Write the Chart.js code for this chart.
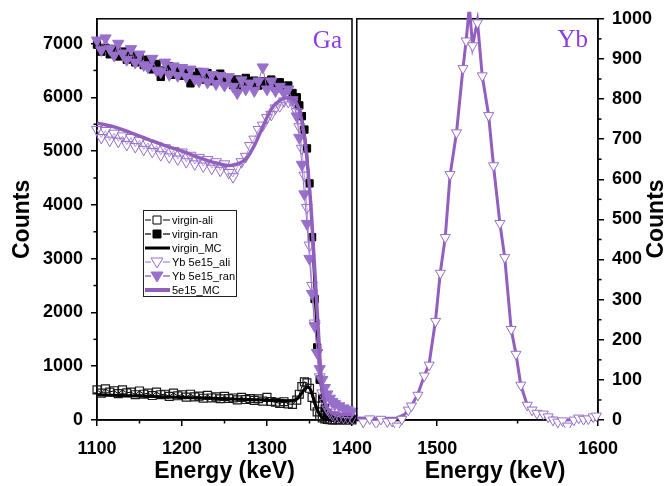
<!DOCTYPE html>
<html><head><meta charset="utf-8">
<script src="https://cdn.jsdelivr.net/npm/chart.js@4.4.1/dist/chart.umd.min.js"></script>
<style>
html,body{margin:0;padding:0;background:#fff;}
#wrap{position:relative;width:668px;height:486px;overflow:hidden;background:#fff;}
#cL{position:absolute;left:0;top:0;}
#cR{position:absolute;left:350px;top:0;}
</style></head>
<body><div id="wrap">
<canvas id="cL" width="400" height="486"></canvas>
<canvas id="cR" width="318" height="486"></canvas>
</div>
<script>
// ---------- data (left panel: Ga) ----------
const E_L = [1100,1105,1110,1115,1120,1125,1130,1135,1140,1145,1150,1155,1160,1165,1170,1175,1180,1185,1190,1195,
  1200,1205,1210,1215,1220,1225,1230,1235,1240,1245,1250,1255,1260,1265,1270,1275,1280,1285,1290,1295,
  1300,1305,1310,1315,1320,1325,1330,1335,
  1338,1341,1344,1347,1350,1353,1356,1359,1362,1365,1368,1371,1374,1377,1380,
  1385,1390,1395,1400];
const virginAli = [560,500,580,520,545,490,560,505,520,470,540,480,500,455,520,470,480,440,500,450,
  470,425,480,430,445,405,460,410,430,395,440,400,410,375,420,380,400,365,395,350,
  420,345,330,310,340,300,290,370,
  480,620,710,690,590,420,260,150,80,40,20,10,5,0,0,
  0,0,0,0];
const virginRan = [6980,6850,6920,6800,6900,6760,6850,6700,6780,6650,6760,6600,6700,6520,6620,6380,6500,6580,6420,6540,
  6400,6480,6260,6400,6470,6330,6450,6300,6400,6440,6280,6350,6230,6330,6200,6360,6250,6310,6220,6300,
  6240,6330,6180,6280,6150,6220,6080,6000,
  5850,5650,5400,5050,4400,3400,2250,1350,750,400,220,130,90,60,45,
  35,25,20,15];
const ybAli = [5400,5250,5380,5200,5330,5180,5280,5120,5250,5080,5200,5030,5150,4990,5100,4930,5060,4890,5010,4850,
  4980,4800,4920,4760,4880,4720,4840,4680,4800,4640,4760,4600,4520,4700,4800,4900,5100,5220,5400,5480,
  5620,5680,5800,5840,5930,5920,5900,5730,
  5450,5050,4550,3950,3250,2500,1800,1250,800,500,320,200,140,100,80,
  60,50,40,40];
const ybRan = [7060,6880,7100,6900,6780,7000,6820,6700,6900,6650,6800,6600,6560,6720,6500,6470,6650,6420,6580,6400,
  6550,6380,6520,6340,6300,6480,6280,6420,6250,6400,6220,6380,6200,6080,6320,6150,6260,6120,6300,6560,
  6150,6300,6120,6200,6080,6150,5950,5650,
  5250,4750,4200,3650,3000,2350,1750,1250,950,750,600,480,400,340,300,
  260,220,190,160];
const E_vMC = [1100,1150,1200,1250,1300,1320,1330,1336,1340,1344,1348,1351,1354,1357,1360,1364,1368,1372,1380,1400];
const virginMC = [470,445,420,395,370,355,360,400,480,570,610,570,440,290,160,60,20,5,0,0];
const E_yMC = [1100,1120,1140,1160,1180,1200,1220,1240,1255,1265,1275,1285,1295,1305,1315,1325,1333,1339,1345,1349,
  1352,1355,1358,1361,1364,1367,1370,1375,1380,1390,1400];
const ybMC = [5520,5450,5340,5220,5100,5000,4880,4780,4730,4760,4850,5100,5450,5780,5940,5990,5930,5700,5150,4500,
  3900,3100,2300,1500,700,400,250,150,120,100,100];

// ---------- data (right panel: Yb) ----------
const E_R = [1454,1458,1462,1465,1469,1472,1475,1478,1482,1484,1488,1492,1495,1499,1502,1505,1508,1512,1516,1518,
  1522,1525,1528,1532,1535,1539,1542,1546,1549,1552,1556,1559,1562,1566,1569,1572,1575,1578,1581,1585,
  1588,1591,1594,1597,1599];
const ybAliR = [-5,3,-8,2,-4,-3,-15,2,25,35,62,110,137,246,366,455,612,716,876,945,
  933,990,858,759,634,490,405,226,164,87,37,25,17,15,8,0,-5,-2,-15,0,
  5,2,3,8,10];
const E_Rmc = [1450,1465,1475,1480,1484,1488,1492,1495,1499,1502,1505,1508,1512,1516,1518,1520,1522,1525,1528,1532,
  1535,1539,1542,1546,1549,1552,1556,1559,1562,1566,1569,1575,1581,1590,1600];
const ybMCR = [5,4,5,15,35,65,110,140,250,370,455,610,716,876,945,1030,933,995,858,759,
  634,490,405,226,164,87,37,25,17,15,8,2,0,3,8];
const E_RvMC = [1450,1480];
const virginMCR = [0,0];

// ---------- ticks ----------
const yTicksL = [0,1000,2000,3000,4000,5000,6000,7000];
const yMinorL = [500,1500,2500,3500,4500,5500,6500];
const xTicksL = [1100,1200,1300,1400];
const xMinorL = [1150,1250,1350];
const yTicksR = [0,100,200,300,400,500,600,700,800,900,1000];
const yMinorR = [50,150,250,350,450,550,650,750,850,950];
const xTicksR = [1500,1600];
const xMinorR = [1550];

// ---------- helpers ----------
const pts = (xs, ys) => xs.map((x, i) => ({x: x, y: ys[i]}));
const FAM = "'Liberation Sans', Arial, sans-serif";
Chart.defaults.font.family = FAM;
const tickFont = {family: FAM, size: 18, weight: 'bold'};
const titleFont = {family: FAM, size: 23, weight: 'bold', lineHeight: 1};
const C_FILL = '#9870cc', C_OPEN = '#9670ca', C_OPENLINE = '#b89ddf', C_MC = '#9160bc';

const gridOpt = {drawOnChartArea: false, drawTicks: true, tickLength: 6, color: '#000', lineWidth: 1.5};
const borderOpt = {display: true, color: '#000', width: 1.5};

const framePlugin = {
  id: 'frame',
  beforeDatasetsDraw(chart) {
    const a = chart.chartArea, ctx = chart.ctx;
    ctx.save(); ctx.strokeStyle = '#000'; ctx.lineWidth = 1.5;
    ctx.strokeRect(a.left, a.top, a.right - a.left, a.bottom - a.top);
    ctx.restore();
  }
};
const minorPlugin = {
  id: 'minor',
  afterDraw(chart, args, opts) {
    const ctx = chart.ctx;
    ctx.save(); ctx.strokeStyle = '#000'; ctx.lineWidth = 1.5;
    for (const m of opts.list || []) {
      const s = chart.scales[m.axis];
      for (const v of m.values) {
        const p = s.getPixelForValue(v);
        ctx.beginPath();
        if (s.isHorizontal()) { ctx.moveTo(p, s.top); ctx.lineTo(p, s.top + 3.5); }
        else if (s.position === 'left') { ctx.moveTo(s.right, p); ctx.lineTo(s.right - 3.5, p); }
        else { ctx.moveTo(s.left, p); ctx.lineTo(s.left + 3.5, p); }
        ctx.stroke();
      }
    }
    ctx.restore();
  }
};
const textPlugin = {
  id: 'texts',
  afterDraw(chart, args, opts) {
    const ctx = chart.ctx;
    for (const t of opts.items || []) {
      ctx.save();
      ctx.font = t.font; ctx.fillStyle = t.color || '#000';
      ctx.textAlign = t.align || 'center'; ctx.textBaseline = t.baseline || 'middle';
      ctx.translate(t.x, t.y);
      if (t.rot) ctx.rotate(t.rot);
      ctx.fillText(t.text, 0, 0);
      ctx.restore();
    }
  }
};
function drawMarker(ctx, kind, x, y, fill, stroke) {
  ctx.beginPath();
  if (kind === 'rect') { ctx.rect(x - 4, y - 4, 8, 8); }
  else { ctx.moveTo(x - 6, y - 4); ctx.lineTo(x + 6, y - 4); ctx.lineTo(x, y + 6); ctx.closePath(); }
  ctx.fillStyle = fill; ctx.fill();
  ctx.strokeStyle = stroke; ctx.lineWidth = 1; ctx.stroke();
}
const legendPlugin = {
  id: 'boxlegend',
  afterDraw(chart, args, opts) {
    const ctx = chart.ctx;
    const x0 = opts.x, y0 = opts.y, w = opts.w, h = opts.h;
    ctx.save();
    ctx.fillStyle = '#fff'; ctx.fillRect(x0, y0, w, h);
    ctx.strokeStyle = '#222'; ctx.lineWidth = 1; ctx.strokeRect(x0 + 0.5, y0 + 0.5, w, h);
    const ds = chart.data.datasets.filter(d => d.lg).sort((a, b) => a.lg.row - b.lg.row);
    ds.forEach((d, i) => {
      const yy = y0 + 10 + i * 14;
      const g = d.lg;
      ctx.strokeStyle = g.lineColor; ctx.lineWidth = g.lineWidth;
      ctx.beginPath();
      if (g.marker) {
        ctx.moveTo(x0 + 2, yy); ctx.lineTo(x0 + 8, yy);
        ctx.moveTo(x0 + 20, yy); ctx.lineTo(x0 + 27, yy);
      } else { ctx.moveTo(x0 + 2, yy); ctx.lineTo(x0 + 27, yy); }
      ctx.stroke();
      if (g.marker) drawMarker(ctx, g.marker, x0 + 14, yy, g.fill, g.stroke);
      ctx.fillStyle = '#000'; ctx.font = '11px ' + FAM;
      ctx.textAlign = 'left'; ctx.textBaseline = 'middle';
      ctx.fillText(d.label, x0 + 29, yy + 0.5);
    });
    ctx.restore();
  }
};

// ---------- left chart ----------
new Chart(document.getElementById('cL'), {
  type: 'scatter',
  data: {datasets: [
    {label: 'virgin-ali', data: pts(E_L, virginAli), showLine: true, borderColor: '#000', borderWidth: 1,
     pointStyle: 'rect', pointRadius: 5.6, pointBorderColor: '#1a1a1a', pointBackgroundColor: 'rgba(0,0,0,0)',
     pointBorderWidth: 1.2, order: 6, clip: false,
     lg: {row: 0, lineColor: '#000', lineWidth: 1, marker: 'rect', fill: '#fff', stroke: '#000'}},
    {label: 'virgin-ran', data: pts(E_L, virginRan), showLine: true, borderColor: '#000', borderWidth: 1.5,
     pointStyle: 'rect', pointRadius: 5.2, pointBorderColor: '#000', pointBackgroundColor: '#000',
     pointBorderWidth: 1, order: 5, clip: false,
     lg: {row: 1, lineColor: '#333', lineWidth: 1.5, marker: 'rect', fill: '#000', stroke: '#000'}},
    {label: 'virgin_MC', data: pts(E_vMC, virginMC), showLine: true, borderColor: '#000', borderWidth: 3,
     pointRadius: 0, cubicInterpolationMode: 'monotone', order: 4, clip: false,
     lg: {row: 2, lineColor: '#000', lineWidth: 3}},
    {label: 'Yb 5e15_ali', data: pts(E_L, ybAli), showLine: true, borderColor: C_OPENLINE, borderWidth: 1,
     pointStyle: 'triangle', pointRotation: 180, pointRadius: 6.3, pointBorderColor: C_OPEN,
     pointBackgroundColor: 'rgba(0,0,0,0)', pointBorderWidth: 1, order: 3, clip: false,
     lg: {row: 3, lineColor: C_OPENLINE, lineWidth: 1.5, marker: 'tri', fill: '#fff', stroke: C_OPEN}},
    {label: 'Yb 5e15_ran', data: pts(E_L, ybRan), showLine: true, borderColor: C_FILL, borderWidth: 1,
     pointStyle: 'triangle', pointRotation: 180, pointRadius: 6.5, pointBorderColor: C_FILL,
     pointBackgroundColor: C_FILL, pointBorderWidth: 1, order: 2, clip: false,
     lg: {row: 4, lineColor: C_FILL, lineWidth: 1.5, marker: 'tri', fill: C_FILL, stroke: C_FILL}},
    {label: '5e15_MC', data: pts(E_yMC, ybMC), showLine: true, borderColor: C_MC, borderWidth: 3.5,
     pointRadius: 0, cubicInterpolationMode: 'monotone', order: 1, clip: false,
     lg: {row: 5, lineColor: C_MC, lineWidth: 4}}
  ]},
  options: {
    responsive: false, animation: false, events: [],
    layout: {padding: {left: 0, right: 48, top: 17, bottom: 0}},
    plugins: {
      legend: {display: false}, tooltip: {enabled: false},
      minor: {list: [{axis: 'x', values: xMinorL}, {axis: 'y', values: yMinorL}]},
      boxlegend: {x: 143, y: 210, w: 93, h: 86},
      texts: {items: [{text: 'Ga', x: 342, y: 48, font: "25px 'Liberation Serif', 'Times New Roman', serif",
        color: '#8c3ce6', align: 'right', baseline: 'alphabetic'}]}
    },
    scales: {
      x: {type: 'linear', min: 1100, max: 1400,
        afterBuildTicks: s => { s.ticks = xTicksL.map(v => ({value: v})); },
        afterFit: s => { s.height = 66; },
        ticks: {font: tickFont, color: '#000', padding: 12, maxRotation: 0, autoSkip: false, callback: v => String(v)},
        grid: gridOpt, border: borderOpt,
        title: {display: true, text: 'Energy (keV)', font: titleFont, color: '#000', padding: {top: 0, bottom: 2.5}}},
      y: {type: 'linear', position: 'left', min: 0, max: 7460,
        afterBuildTicks: s => { s.ticks = yTicksL.map(v => ({value: v})); },
        afterFit: s => { s.width = 97; },
        ticks: {font: tickFont, color: '#000', padding: 8, autoSkip: false, callback: v => String(v)},
        grid: gridOpt, border: borderOpt,
        title: {display: true, text: 'Counts', font: titleFont, color: '#000', padding: {top: 11.5, bottom: 0}}}
    }
  },
  plugins: [framePlugin, minorPlugin, textPlugin, legendPlugin]
});

// ---------- right chart ----------
new Chart(document.getElementById('cR'), {
  type: 'scatter',
  data: {datasets: [
    {label: 'virgin_MC', data: pts(E_RvMC, virginMCR), showLine: true, borderColor: '#000', borderWidth: 2.5,
     pointRadius: 0, order: 3, clip: {left: 0, right: 0, top: 0, bottom: 4}},
    {label: '5e15_MC', data: pts(E_Rmc, ybMCR), showLine: true, borderColor: '#925fbf', borderWidth: 3,
     pointRadius: 0, order: 2, clip: {left: 0, right: 0, top: 7, bottom: 4}},
    {label: 'Yb 5e15_ali', data: pts(E_R, ybAliR), showLine: false,
     pointStyle: 'triangle', pointRotation: 180, pointRadius: 5.8, pointBorderColor: C_OPEN,
     pointBackgroundColor: '#fff', pointBorderWidth: 1, order: 1, clip: {left: 6, right: 6, top: 0, bottom: 8}}
  ]},
  options: {
    responsive: false, animation: false, events: [],
    layout: {padding: {left: 6.5, right: 0, top: 17, bottom: 0}},
    plugins: {
      legend: {display: false}, tooltip: {enabled: false},
      minor: {list: [{axis: 'x', values: xMinorR}, {axis: 'y', values: yMinorR}]},
      texts: {items: [
        {text: 'Yb', x: 238, y: 47, font: "25px 'Liberation Serif', 'Times New Roman', serif",
         color: '#8c3ce6', align: 'right', baseline: 'alphabetic'},
        {text: 'Energy (keV)', x: 145, y: 472, font: "bold 23px " + FAM, color: '#000'},
        {text: 'Counts', x: 307, y: 219, font: "bold 23px " + FAM, color: '#000', rot: -Math.PI / 2}
      ]}
    },
    scales: {
      x: {type: 'linear', min: 1450, max: 1600,
        afterBuildTicks: s => { s.ticks = xTicksR.map(v => ({value: v})); },
        afterFit: s => { s.height = 66; },
        ticks: {font: tickFont, color: '#000', padding: 12, maxRotation: 0, autoSkip: false, callback: v => String(v)},
        grid: gridOpt, border: borderOpt},
      y: {type: 'linear', position: 'right', min: 0, max: 1000,
        afterBuildTicks: s => { s.ticks = yTicksR.map(v => ({value: v})); },
        afterFit: s => { s.width = 70; },
        ticks: {font: tickFont, color: '#000', padding: 8, autoSkip: false, callback: v => String(v)},
        grid: gridOpt, border: borderOpt}
    }
  },
  plugins: [framePlugin, minorPlugin, textPlugin]
});
</script>
</body></html>
